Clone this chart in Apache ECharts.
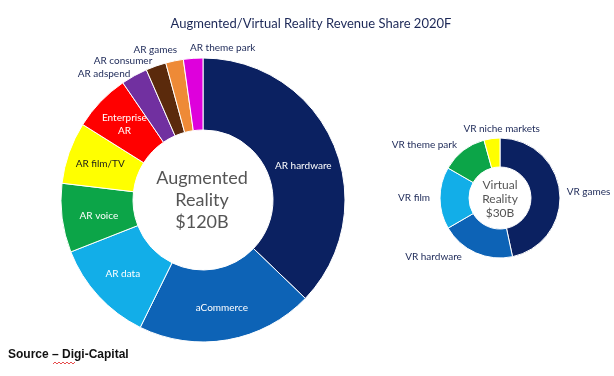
<!DOCTYPE html>
<html>
<head>
<meta charset="utf-8">
<script src="https://cdn.jsdelivr.net/npm/echarts@6/dist/echarts.min.js"></script>
<style>
  html, body { margin: 0; padding: 0; background: #fff; }
  #chart { width: 614px; height: 376px; }
</style>
</head>
<body>
<div id="chart"></div>
<script>
// revenue share, % of each total
const arCategories = ['AR hardware', 'aCommerce', 'AR data', 'AR voice', 'AR film/TV',
  'Enterprise AR', 'AR adspend', 'AR consumer', 'AR games', 'AR theme park'];
const arValues = [37, 20, 11.7, 7.8, 7, 6.5, 3, 2.3, 2, 2.2];
const arColors = ['#0b2161', '#0d63b6', '#12aee8', '#0ca548', '#ffff00',
  '#ff0000', '#7130a0', '#5b2a0c', '#ee8a37', '#de00dc'];

const vrCategories = ['VR games', 'VR hardware', 'VR film', 'VR theme park', 'VR niche markets'];
const vrValues = [46.7, 20, 16.7, 12.4, 4.3];
const vrColors = ['#0b2161', '#0d63b6', '#12aee8', '#0ca548', '#ffff00'];

const arCenter = ['Augmented', 'Reality', '$120B'];
const vrCenter = ['Virtual', 'Reality', '$30B'];

const FONT = 'Lato';
const NAVY = '#1c2857';

// which AR slices carry their name outside the ring
const arOutside = ['AR adspend', 'AR consumer', 'AR games', 'AR theme park'];
// small label nudges so text sits like the original
const nudge = {
  'AR hardware': { dy: 8 },
  'AR voice': { dx: 4, dy: 2 },
  'AR consumer': { dy: -3 },
  'AR games': { dx: 6, dy: -9 },
  'AR theme park': { dy: -9, align: 'left' },
  'VR niche markets': { dx: 15, dy: -8, align: 'center' },
  'VR theme park': { dy: -4 },
  'VR film': { dx: -3 },
  'VR hardware': { dx: -8, dy: 2 },
};

const chart = echarts.init(document.getElementById('chart'));

const arData = arCategories.map((name, i) => {
  const outside = arOutside.indexOf(name) >= 0;
  return {
    name,
    value: arValues[i],
    itemStyle: { color: arColors[i] },
    label: outside
      ? { position: 'outside', color: NAVY }
      : { position: 'inside', color: name === 'AR film/TV' ? '#1a1a1a' : '#fff' }
  };
});

const vrData = vrCategories.map((name, i) => ({
  name,
  value: vrValues[i],
  itemStyle: { color: vrColors[i] }
}));

chart.setOption({
  animation: false,
  title: {
    text: 'Augmented/Virtual Reality Revenue Share 2020F',
    left: 306,
    top: 12,
    textAlign: 'center',
    textStyle: { fontFamily: FONT, fontSize: 13, fontWeight: 'normal', color: NAVY }
  },
  graphic: [
    {
      type: 'text',
      x: 202,
      y: 200,
      style: {
        text: arCenter.join('\n'),
        font: '18px ' + FONT,
        fill: '#555',
        align: 'center',
        verticalAlign: 'middle',
        lineHeight: 22
      }
    },
    {
      type: 'text',
      x: 500,
      y: 199,
      style: {
        text: vrCenter.join('\n'),
        font: '12px ' + FONT,
        fill: '#555',
        align: 'center',
        verticalAlign: 'middle',
        lineHeight: 14
      }
    },
    {
      type: 'text',
      x: 8,
      y: 349,
      style: {
        text: 'Source \u2013 Digi-Capital',
        font: 'bold 12px "Liberation Sans", Arial',
        fill: '#111'
      }
    },
    {
      type: 'polyline',
      shape: {
        points: [[53, 364], [55, 362], [57, 364], [59, 362], [61, 364], [63, 362],
          [65, 364], [67, 362], [69, 364], [71, 362], [73, 364], [75, 362]]
      },
      style: { stroke: '#e02020', lineWidth: 0.8, fill: null }
    }
  ],
  series: [
    {
      type: 'pie',
      center: [203, 200],
      radius: [70, 142],
      startAngle: 90,
      clockwise: true,
      avoidLabelOverlap: false,
      itemStyle: { borderColor: '#fff', borderWidth: 1 },
      label: {
        fontFamily: FONT,
        fontSize: 10,
        distanceToLabelLine: 3,
        formatter: p => p.name === 'Enterprise AR' ? 'Enterprise\nAR' : p.name,
        lineHeight: 13
      },
      labelLine: { show: false, length: 2, length2: 0 },
      labelLayout: p => nudge[arCategories[p.dataIndex]] || {},
      emphasis: { disabled: true },
      data: arData
    },
    {
      type: 'pie',
      center: [500, 198],
      radius: [31, 60],
      startAngle: 90,
      clockwise: true,
      avoidLabelOverlap: false,
      itemStyle: { borderColor: '#fff', borderWidth: 1 },
      label: {
        position: 'outside',
        fontFamily: FONT,
        fontSize: 10,
        color: NAVY,
        distanceToLabelLine: 5
      },
      labelLine: { show: false, length: 2, length2: 0 },
      labelLayout: p => nudge[vrCategories[p.dataIndex]] || {},
      emphasis: { disabled: true },
      data: vrData
    }
  ]
});
</script>
</body>
</html>
